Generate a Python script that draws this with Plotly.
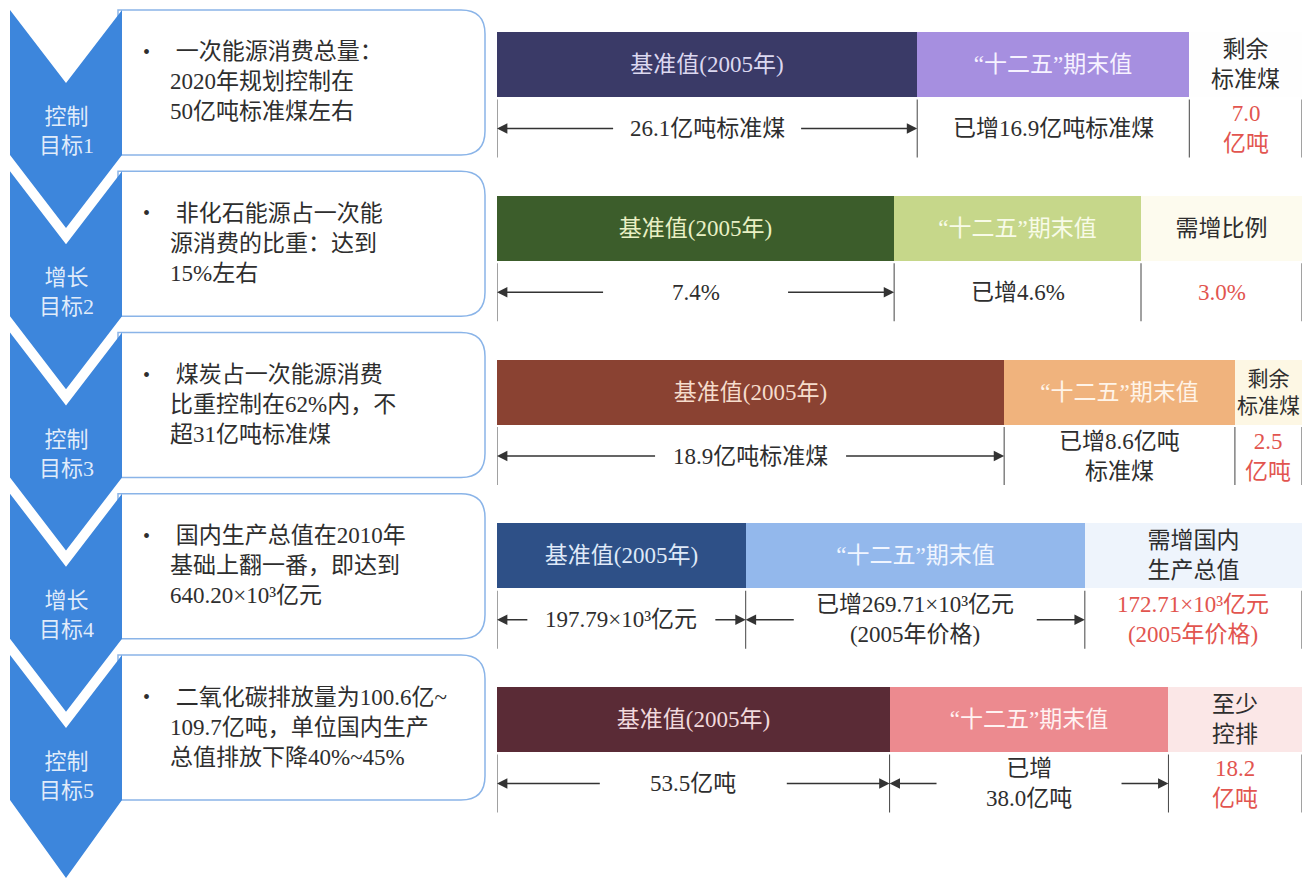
import plotly.graph_objects as go

# ---------------- data ----------------
goals = ["控制目标1", "增长目标2", "控制目标3", "增长目标4", "控制目标5"]
goal_kind = ["控制", "增长", "控制", "增长", "控制"]
goal_no = ["目标1", "目标2", "目标3", "目标4", "目标5"]
goal_text = [
    [" 一次能源消费总量：", "2020年规划控制在", "50亿吨标准煤左右"],
    [" 非化石能源占一次能", "源消费的比重：达到", "15%左右"],
    [" 煤炭占一次能源消费", "比重控制在62%内，不", "超31亿吨标准煤"],
    [" 国内生产总值在2010年", "基础上翻一番，即达到", "640.20×10³亿元"],
    [" 二氧化碳排放量为100.6亿~", "109.7亿吨，单位国内生产", "总值排放下降40%~45%"],
]

segment_names = ["基准值(2005年)", "“十二五”期末值"]
remaining_names = ["剩余<br>标准煤", "需增比例", "剩余<br>标准煤", "需增国内<br>生产总值", "至少<br>控排"]

base_values = [26.1, 7.4, 18.9, 197.79, 53.5]
added_values = [16.9, 4.6, 8.6, 269.71, 38.0]
remaining_values = [7.0, 3.0, 2.5, 172.71, 18.2]
value_decimals = [1, 1, 1, 2, 1]

base_fmt = ["{}亿吨标准煤", "{}%", "{}亿吨标准煤", "{}×10³亿元", "{}亿吨"]
added_fmt = ["已增{}亿吨标准煤", "已增{}%", "已增{}亿吨<br>标准煤",
             "已增{}×10³亿元<br>(2005年价格)", "已增<br>{}亿吨"]
remaining_fmt = ["{}<br>亿吨", "{}%", "{}<br>亿吨", "{}×10³亿元<br>(2005年价格)", "{}<br>亿吨"]

# ---------------- style ----------------
W, H = 1307, 880
FONT = "Liberation Serif, Noto Sans CJK SC, serif"
TEXT_COLOR = "#2e2e2e"
RED = "#e2554f"
CHEVRON = "#3d86dc"
BOX_LINE = "#8ab4e8"

base_colors = ["#3a3a67", "#3c5d2b", "#8a4232", "#2e5087", "#5a2b36"]
added_colors = ["#a68fe0", "#c6d78a", "#f0b37d", "#93b8ec", "#ec8a8f"]
remaining_colors = ["#fefefe", "#fdfbee", "#fdf7e4", "#eef4fc", "#fbe7e7"]
base_text_colors = ["#dcd8f0", "#e9f0c4", "#f5dccc", "#dfe9f8", "#f1d9dd"]
added_text_colors = ["#f6f2ff", "#f8fbe8", "#fff4e8", "#f0f5ff", "#fff2f2"]
remaining_text_sizes = [23, 23, 21, 23, 23]

BAR_X0, BAR_X1 = 497, 1302          # pixel extent of the bar area
ROW0, ROW_STEP = 64.5, 163.75       # first bar centre and row pitch (px)
BAR_PX = 65
KX = (BAR_X1 - BAR_X0) / 100.0      # px per percent on the bar axis

base_gap = [185, 182, 188, 185, 184]          # text gap between double arrows
added_gap = [None, None, None, 240, 182]

BOX_TOP0, BOX_STEP, BOX_H = 10, 161.25, 145


def px(x):
    return x / W


def py(y):
    return 1 - y / H


def ycat(i, dy):
    return i + dy / ROW_STEP


fig = go.Figure()

# stacked, row-normalised bars
for vals, texts, colors, tcolors, tsizes in [
    (base_values, [segment_names[0]] * 5, base_colors, base_text_colors, 23),
    (added_values, [segment_names[1]] * 5, added_colors, added_text_colors, 23),
    (remaining_values, remaining_names, remaining_colors, [TEXT_COLOR] * 5,
     remaining_text_sizes),
]:
    fig.add_trace(go.Bar(
        y=goals, x=vals, orientation="h",
        marker=dict(color=colors, line=dict(width=0)),
        width=BAR_PX / ROW_STEP,
        text=texts, textposition="inside", insidetextanchor="middle",
        textangle=0, constraintext="none",
        textfont=dict(family=FONT, size=tsizes, color=tcolors),
        xaxis="x2", yaxis="y2", hoverinfo="skip", showlegend=False,
        cliponaxis=False,
    ))

shapes = []
annotations = []

# left column: rounded boxes and chevrons
for i in range(5):
    t = BOX_TOP0 + BOX_STEP * i
    left, right, r = 118, 485, 24
    box = (f"M {px(left)},{py(t)} L {px(right - r)},{py(t)} "
           f"Q {px(right)},{py(t)} {px(right)},{py(t + r)} "
           f"L {px(right)},{py(t + BOX_H - r)} "
           f"Q {px(right)},{py(t + BOX_H)} {px(right - r)},{py(t + BOX_H)} "
           f"L {px(left)},{py(t + BOX_H)} Z")
    shapes.append(dict(type="path", path=box, xref="paper", yref="paper",
                       fillcolor="white", line=dict(color=BOX_LINE, width=1.5),
                       layer="above"))

    notch = 73
    point = 78 if i == 4 else 73
    chev = (f"M {px(10)},{py(t)} L {px(66)},{py(t + notch)} L {px(122)},{py(t)} "
            f"L {px(122)},{py(t + BOX_H)} L {px(66)},{py(t + BOX_H + point)} "
            f"L {px(10)},{py(t + BOX_H)} Z")
    shapes.append(dict(type="path", path=chev, xref="paper", yref="paper",
                       fillcolor=CHEVRON, line=dict(width=0), layer="above"))

    annotations.append(dict(
        x=px(66), y=py(t + 121), xref="paper", yref="paper",
        text=f"{goal_kind[i]}<br>{goal_no[i]}", showarrow=False,
        xanchor="center", yanchor="middle", align="center",
        font=dict(family=FONT, size=22, color="rgba(236,243,253,0.95)")))
    annotations.append(dict(
        x=px(146), y=py(t + 42), xref="paper", yref="paper", text="•",
        showarrow=False, xanchor="center", yanchor="middle",
        font=dict(family=FONT, size=20, color=TEXT_COLOR)))
    annotations.append(dict(
        x=px(168), y=py(t + 72), xref="paper", yref="paper",
        text="<br>".join(goal_text[i]), showarrow=False,
        xanchor="left", yanchor="middle", align="left",
        font=dict(family=FONT, size=23, color=TEXT_COLOR)))

# bar annotations: boundary ticks, value labels and dimension arrows
for i in range(5):
    b, a, r = base_values[i], added_values[i], remaining_values[i]
    tot = b + a + r
    c1 = 100 * b / tot
    c2 = 100 * (b + a) / tot
    for c in (0, c1, c2, 100):
        shapes.append(dict(type="line", xref="x2", yref="y2",
                           x0=c, x1=c, y0=ycat(i, 35), y1=ycat(i, 93),
                           line=dict(color="#444", width=1)))

    d = value_decimals[i]
    labels = [
        (base_fmt[i].format(f"{b:.{d}f}"), 0, c1, TEXT_COLOR, base_gap[i]),
        (added_fmt[i].format(f"{a:.{d}f}"), c1, c2, TEXT_COLOR, added_gap[i]),
        (remaining_fmt[i].format(f"{r:.{d}f}"), c2, 100, RED, None),
    ]
    yl = ycat(i, 64)
    for text, lo, hi, color, gap in labels:
        mid = (lo + hi) / 2
        annotations.append(dict(
            x=mid, y=yl, xref="x2", yref="y2", text=text, showarrow=False,
            xanchor="center", yanchor="middle", align="center",
            font=dict(family=FONT, size=23, color=color)))
        if gap:
            half = gap / 2 / KX
            for head, tail in ((lo, mid - half), (hi, mid + half)):
                annotations.append(dict(
                    x=head, y=yl, ax=tail, ay=yl, xref="x2", yref="y2",
                    axref="x2", ayref="y2", text="", showarrow=True,
                    arrowhead=2, arrowsize=1.6, arrowwidth=1.3,
                    arrowcolor="#333", standoff=0, startstandoff=0))

fig.update_layout(
    width=W, height=H, margin=dict(l=0, r=0, t=0, b=0),
    paper_bgcolor="white", plot_bgcolor="rgba(0,0,0,0)",
    barmode="stack", barnorm="percent", bargap=0,
    xaxis2=dict(domain=[px(BAR_X0), px(BAR_X1)], range=[0, 100],
                visible=False, anchor="y2", fixedrange=True),
    yaxis2=dict(domain=[0, 1], type="category", categoryorder="array",
                categoryarray=goals,
                range=[(H - ROW0) / ROW_STEP, -ROW0 / ROW_STEP],
                visible=False, anchor="x2", fixedrange=True),
    shapes=shapes, annotations=annotations,
)

fig.write_html("out.html")
